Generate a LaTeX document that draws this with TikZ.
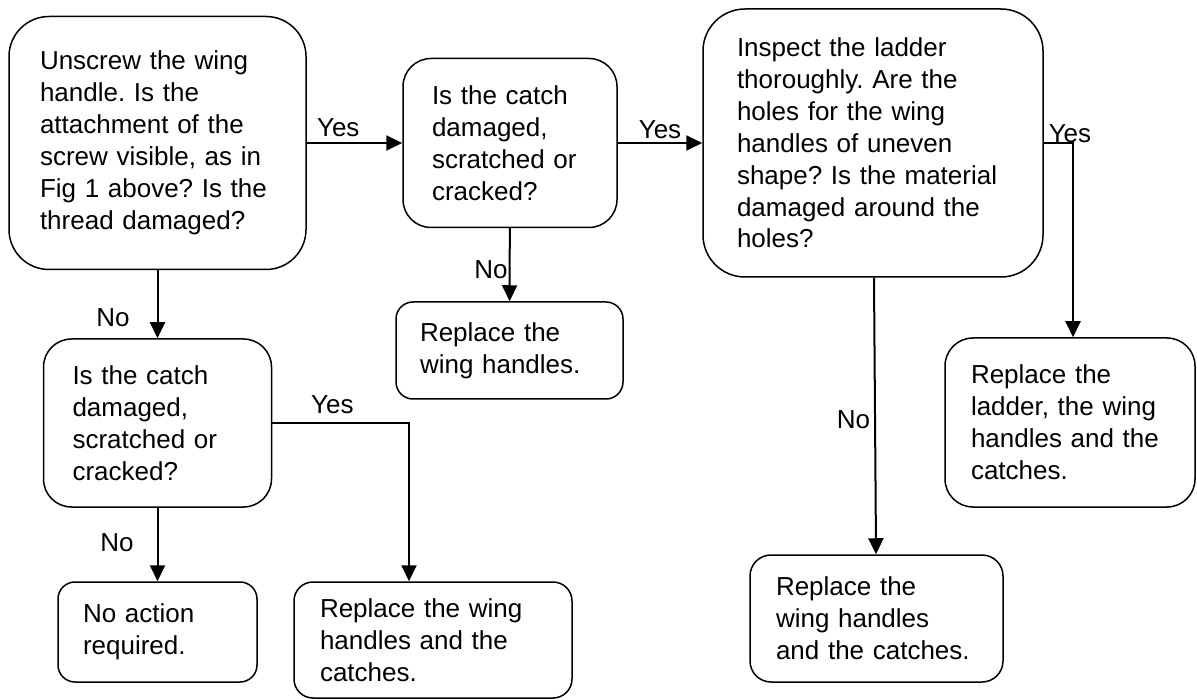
\documentclass[tikz,border=0pt]{standalone}
\usepackage{fontspec}
\setmainfont{Liberation Sans}
\frenchspacing
\usepackage{tikz}
\usetikzlibrary{arrows.meta}
\tikzstyle{question} = [rectangle, draw = black, line width=1.5pt, align=left, inner xsep=28pt, inner ysep=0pt, font=\fontsize{26}{31.9}\selectfont]
\tikzstyle{action} = [question]
\tikzstyle{answer} = [inner sep=2pt, font=\fontsize{26}{31.9}\selectfont]
\tikzstyle{arrow} = [->, >={Triangle[length=16pt, width=15pt]}, line width=2pt]

\begin{document}
\begin{tikzpicture}[x=1pt, y=-1pt]
	\useasboundingbox (0,0) rectangle (1197,700);
	\node (unscrew) [question, rounded corners=40pt, inner xsep=31pt, text width=235pt, minimum height=253pt] at (157.5,143) {Unscrew the wing\\handle. Is the\\attachment of the\\screw visible, as in\\Fig 1 above? Is the\\thread damaged?};
	\node (catch1) [question, rounded corners=28pt, inner xsep=29pt, text width=156pt, minimum height=169pt] at (510,143) {Is the catch\\damaged,\\scratched or\\cracked?};
	\node (inspect) [question, rounded corners=42pt, inner xsep=34pt, text width=272pt, minimum height=268pt] at (873,143) {Inspect the ladder\\thoroughly. Are the\\holes for the wing\\handles of uneven\\shape? Is the material\\damaged around the\\holes?};
	\node (wings) [action, rounded corners=17pt, inner xsep=24pt, text width=179pt, minimum height=97pt] at (509.5,350.5) {Replace the\\wing handles.};
	\node (catch2) [question, rounded corners=28pt, inner xsep=29pt, text width=170pt, minimum height=168pt] at (157.5,423) {Is the catch\\damaged,\\scratched or\\cracked?};
	\node (ladder) [action, rounded corners=28pt, inner xsep=26pt, text width=198pt, minimum height=169pt] at (1070,422.5) {Replace the\\ladder, the wing\\handles and the\\catches.};
	\node (wingscatches) [action, rounded corners=21pt, inner xsep=26pt, text width=201pt, minimum height=127pt] at (876.5,618.5) {Replace the\\wing handles\\and the catches.};
	\node (noaction) [action, rounded corners=17pt, inner xsep=25pt, text width=149pt, minimum height=100pt] at (157.5,632) {No action\\required.};
	\node (all) [action, rounded corners=19pt, inner xsep=26pt, text width=226pt, minimum height=116pt] at (433,640) {Replace the wing\\handles and the\\catches.};
	
	\draw [arrow](unscrew) -- node [answer, above=3pt, pos=0.33] {Yes} (catch1);
	\draw [arrow](catch1) -- node [answer, above=1pt] {Yes} (inspect);
	\draw [arrow](inspect.east) -| node [answer, anchor=base west, pos=0, inner sep=0pt, xshift=4pt] {Yes} ([xshift=3pt]ladder.north);
	\draw [arrow](unscrew) -- node [answer, left, pos=0.7, xshift=-25pt] {No} (catch2);
	\draw [arrow](catch1) -- node [answer, left, pos=0.57, inner sep=1pt] {No} (wings);
	\draw [arrow](inspect) -- node [answer, left, pos=0.514, inner sep=4pt] {No} (wingscatches);
	\draw [arrow](catch2) -- node [answer, left, pos=0.47, xshift=-21pt] {No} (noaction);
	\draw [arrow](catch2.east) -| node [answer, above=6pt, pos=0.22] {Yes} ([xshift=-24pt]all.north);
\end{tikzpicture}
\end{document}
